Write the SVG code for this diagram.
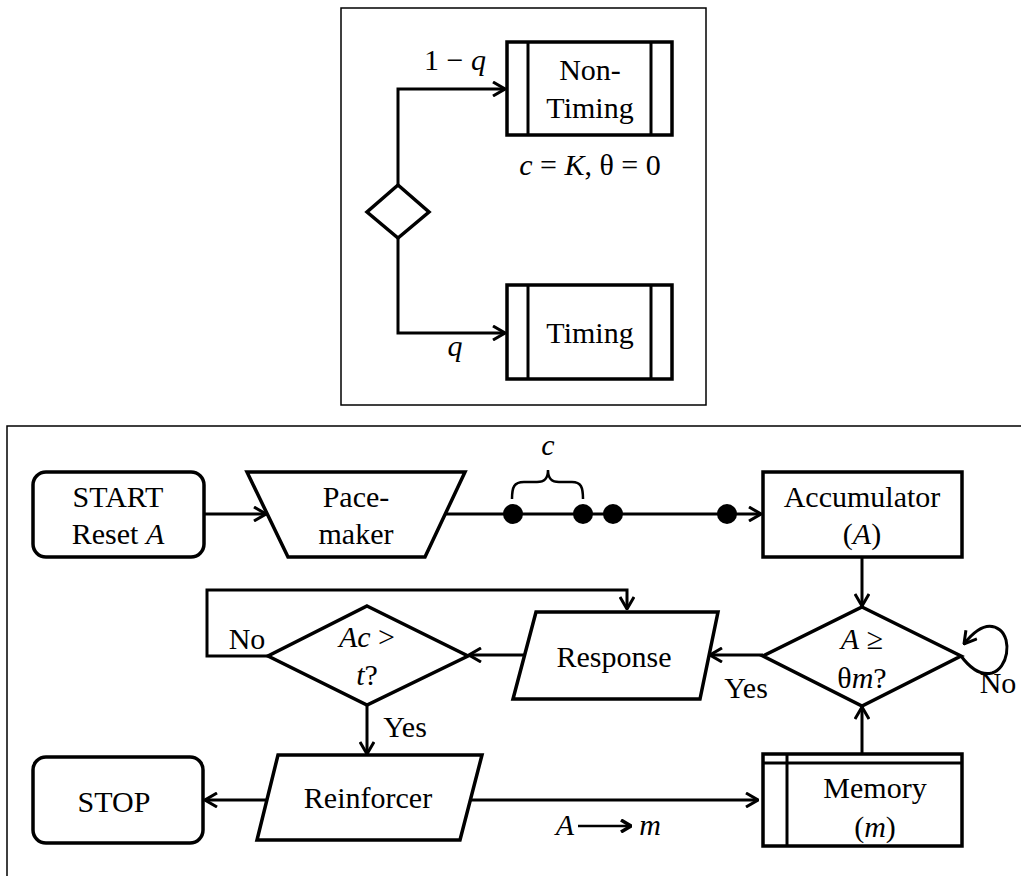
<svg xmlns="http://www.w3.org/2000/svg" width="1021" height="876" viewBox="0 0 1021 876">
<style>
text{font-family:"Liberation Serif","Times New Roman","DejaVu Serif","Noto Serif",serif;font-size:30px;fill:#000;text-anchor:middle}
.it{font-style:italic}
.shape{fill:#fff;stroke:#000;stroke-width:3.5}
.frame{fill:#fff;stroke:#000;stroke-width:1.5}
.conn{fill:none;stroke:#000;stroke-width:3}
.thin{fill:none;stroke:#000;stroke-width:2.5}
</style>
<defs>
<marker id="arr" viewBox="0 0 14 16" markerWidth="14" markerHeight="16" refX="13" refY="8" orient="auto" markerUnits="userSpaceOnUse">
<path d="M1,1 L13,8 L1,15" fill="none" stroke="#000" stroke-width="3"/>
</marker>
<marker id="arrs" viewBox="0 0 12 14" markerWidth="12" markerHeight="14" refX="11" refY="7" orient="auto" markerUnits="userSpaceOnUse">
<path d="M1,1 L11,7 L1,13" fill="none" stroke="#000" stroke-width="3.5"/>
</marker>
</defs>
<rect width="1021" height="876" fill="#fff"/>
<rect class="frame" x="341" y="8" width="365" height="397"/>
<rect class="frame" x="7" y="426" width="1030" height="470"/>

<g id="connectors">
<polyline class="conn" points="398,185 398,89 505,89" marker-end="url(#arr)"/>
<polyline class="conn" points="398,237 398,333 505,333" marker-end="url(#arr)"/>
<line class="conn" x1="204" y1="514" x2="266" y2="514" marker-end="url(#arr)"/>
<line class="conn" x1="445" y1="514" x2="761" y2="514" marker-end="url(#arr)"/>
<line class="conn" x1="862" y1="557" x2="862" y2="606" marker-end="url(#arr)"/>
<line class="conn" x1="763" y1="655" x2="710" y2="655" marker-end="url(#arr)"/>
<line class="conn" x1="524" y1="655" x2="469" y2="655" marker-end="url(#arr)"/>
<polyline class="conn" points="268,656 207,656 207,590 627,590 627,609" marker-end="url(#arr)"/>
<line class="conn" x1="367" y1="705" x2="367" y2="754" marker-end="url(#arr)"/>
<line class="conn" x1="267" y1="800" x2="205" y2="800" marker-end="url(#arr)"/>
<line class="conn" x1="471" y1="800" x2="758" y2="800" marker-end="url(#arr)"/>
<line class="conn" x1="862" y1="754" x2="862" y2="707" marker-end="url(#arr)"/>
<path class="conn" d="M961,656 C970,668 980,676 992,673 C1008,668 1012,640 1000,630 C988,621 975,630 964,644" marker-end="url(#arr)"/>
</g>

<g id="decision-top"><polygon class="shape" points="398,185 429,212 398,238 367,212"/></g>
<g id="non-timing">
<rect class="shape" x="507" y="42" width="165" height="93"/>
<line class="conn" x1="528" y1="42" x2="528" y2="135"/>
<line class="conn" x1="651" y1="42" x2="651" y2="135"/>
<text x="590" y="80">Non-</text>
<text x="590" y="118">Timing</text>
</g>
<g id="timing">
<rect class="shape" x="507" y="285" width="165" height="94"/>
<line class="conn" x1="528" y1="285" x2="528" y2="379"/>
<line class="conn" x1="651" y1="285" x2="651" y2="379"/>
<text x="590" y="343">Timing</text>
</g>
<text x="455" y="70">1 − <tspan class="it">q</tspan></text>
<text x="455" y="356" class="it">q</text>
<text x="590" y="175"><tspan class="it">c</tspan> = <tspan class="it">K</tspan>, θ = 0</text>

<g id="start">
<rect class="shape" x="33" y="472" width="171" height="85" rx="13"/>
<text x="118" y="507">START</text>
<text x="118" y="544">Reset <tspan class="it">A</tspan></text>
</g>
<g id="pacemaker">
<polygon class="shape" points="247,472 465,472 425,557 288,557"/>
<text x="356" y="507">Pace-</text>
<text x="356" y="544">maker</text>
</g>
<g id="pulses">
<circle cx="513" cy="514" r="10"/>
<circle cx="583" cy="514" r="10"/>
<circle cx="613" cy="514" r="10"/>
<circle cx="727" cy="514" r="10"/>
<path class="thin" d="M512,499 C512,487 514,482 524,482 L537,482 C544,482 548,479 548,470 C548,479 552,482 559,482 L572,482 C581,482 583,487 583,499"/>
<text x="548" y="455" class="it">c</text>
</g>
<g id="accumulator">
<rect class="shape" x="763" y="472" width="199" height="85"/>
<text x="862" y="507">Accumulator</text>
<text x="862" y="544">(<tspan class="it">A</tspan>)</text>
</g>
<g id="compare">
<polygon class="shape" points="862,607 961,656 862,706 763,656"/>
<text x="862" y="649"><tspan class="it">A</tspan> ≥</text>
<text x="862" y="688">θ<tspan class="it">m</tspan>?</text>
</g>
<text x="746" y="698">Yes</text>
<text x="998" y="693">No</text>
<g id="response">
<polygon class="shape" points="536,612 718,612 700,699 513,699"/>
<text x="614" y="667">Response</text>
</g>
<g id="threshold">
<polygon class="shape" points="367,606 468,656 367,705 268,656"/>
<text x="367" y="647"><tspan class="it">Ac</tspan> &gt;</text>
<text x="367" y="685"><tspan class="it">t</tspan>?</text>
</g>
<text x="247" y="649">No</text>
<text x="405" y="737">Yes</text>
<g id="reinforcer">
<polygon class="shape" points="278,755 482,755 460,840 257,840"/>
<text x="368" y="808">Reinforcer</text>
</g>
<g id="stop">
<rect class="shape" x="33" y="757" width="170" height="86" rx="13"/>
<text x="114" y="812">STOP</text>
</g>
<g id="memory">
<rect class="shape" x="763" y="754" width="199" height="92"/>
<line class="conn" x1="763" y1="763" x2="962" y2="763"/>
<line class="conn" x1="787" y1="754" x2="787" y2="846"/>
<text x="875" y="798">Memory</text>
<text x="875" y="837">(<tspan class="it">m</tspan>)</text>
</g>
<g id="transfer-label">
<text x="565" y="835" class="it">A</text>
<line class="thin" x1="578" y1="826" x2="631" y2="826" marker-end="url(#arrs)"/>
<text x="650" y="835" class="it">m</text>
</g>
</svg>
